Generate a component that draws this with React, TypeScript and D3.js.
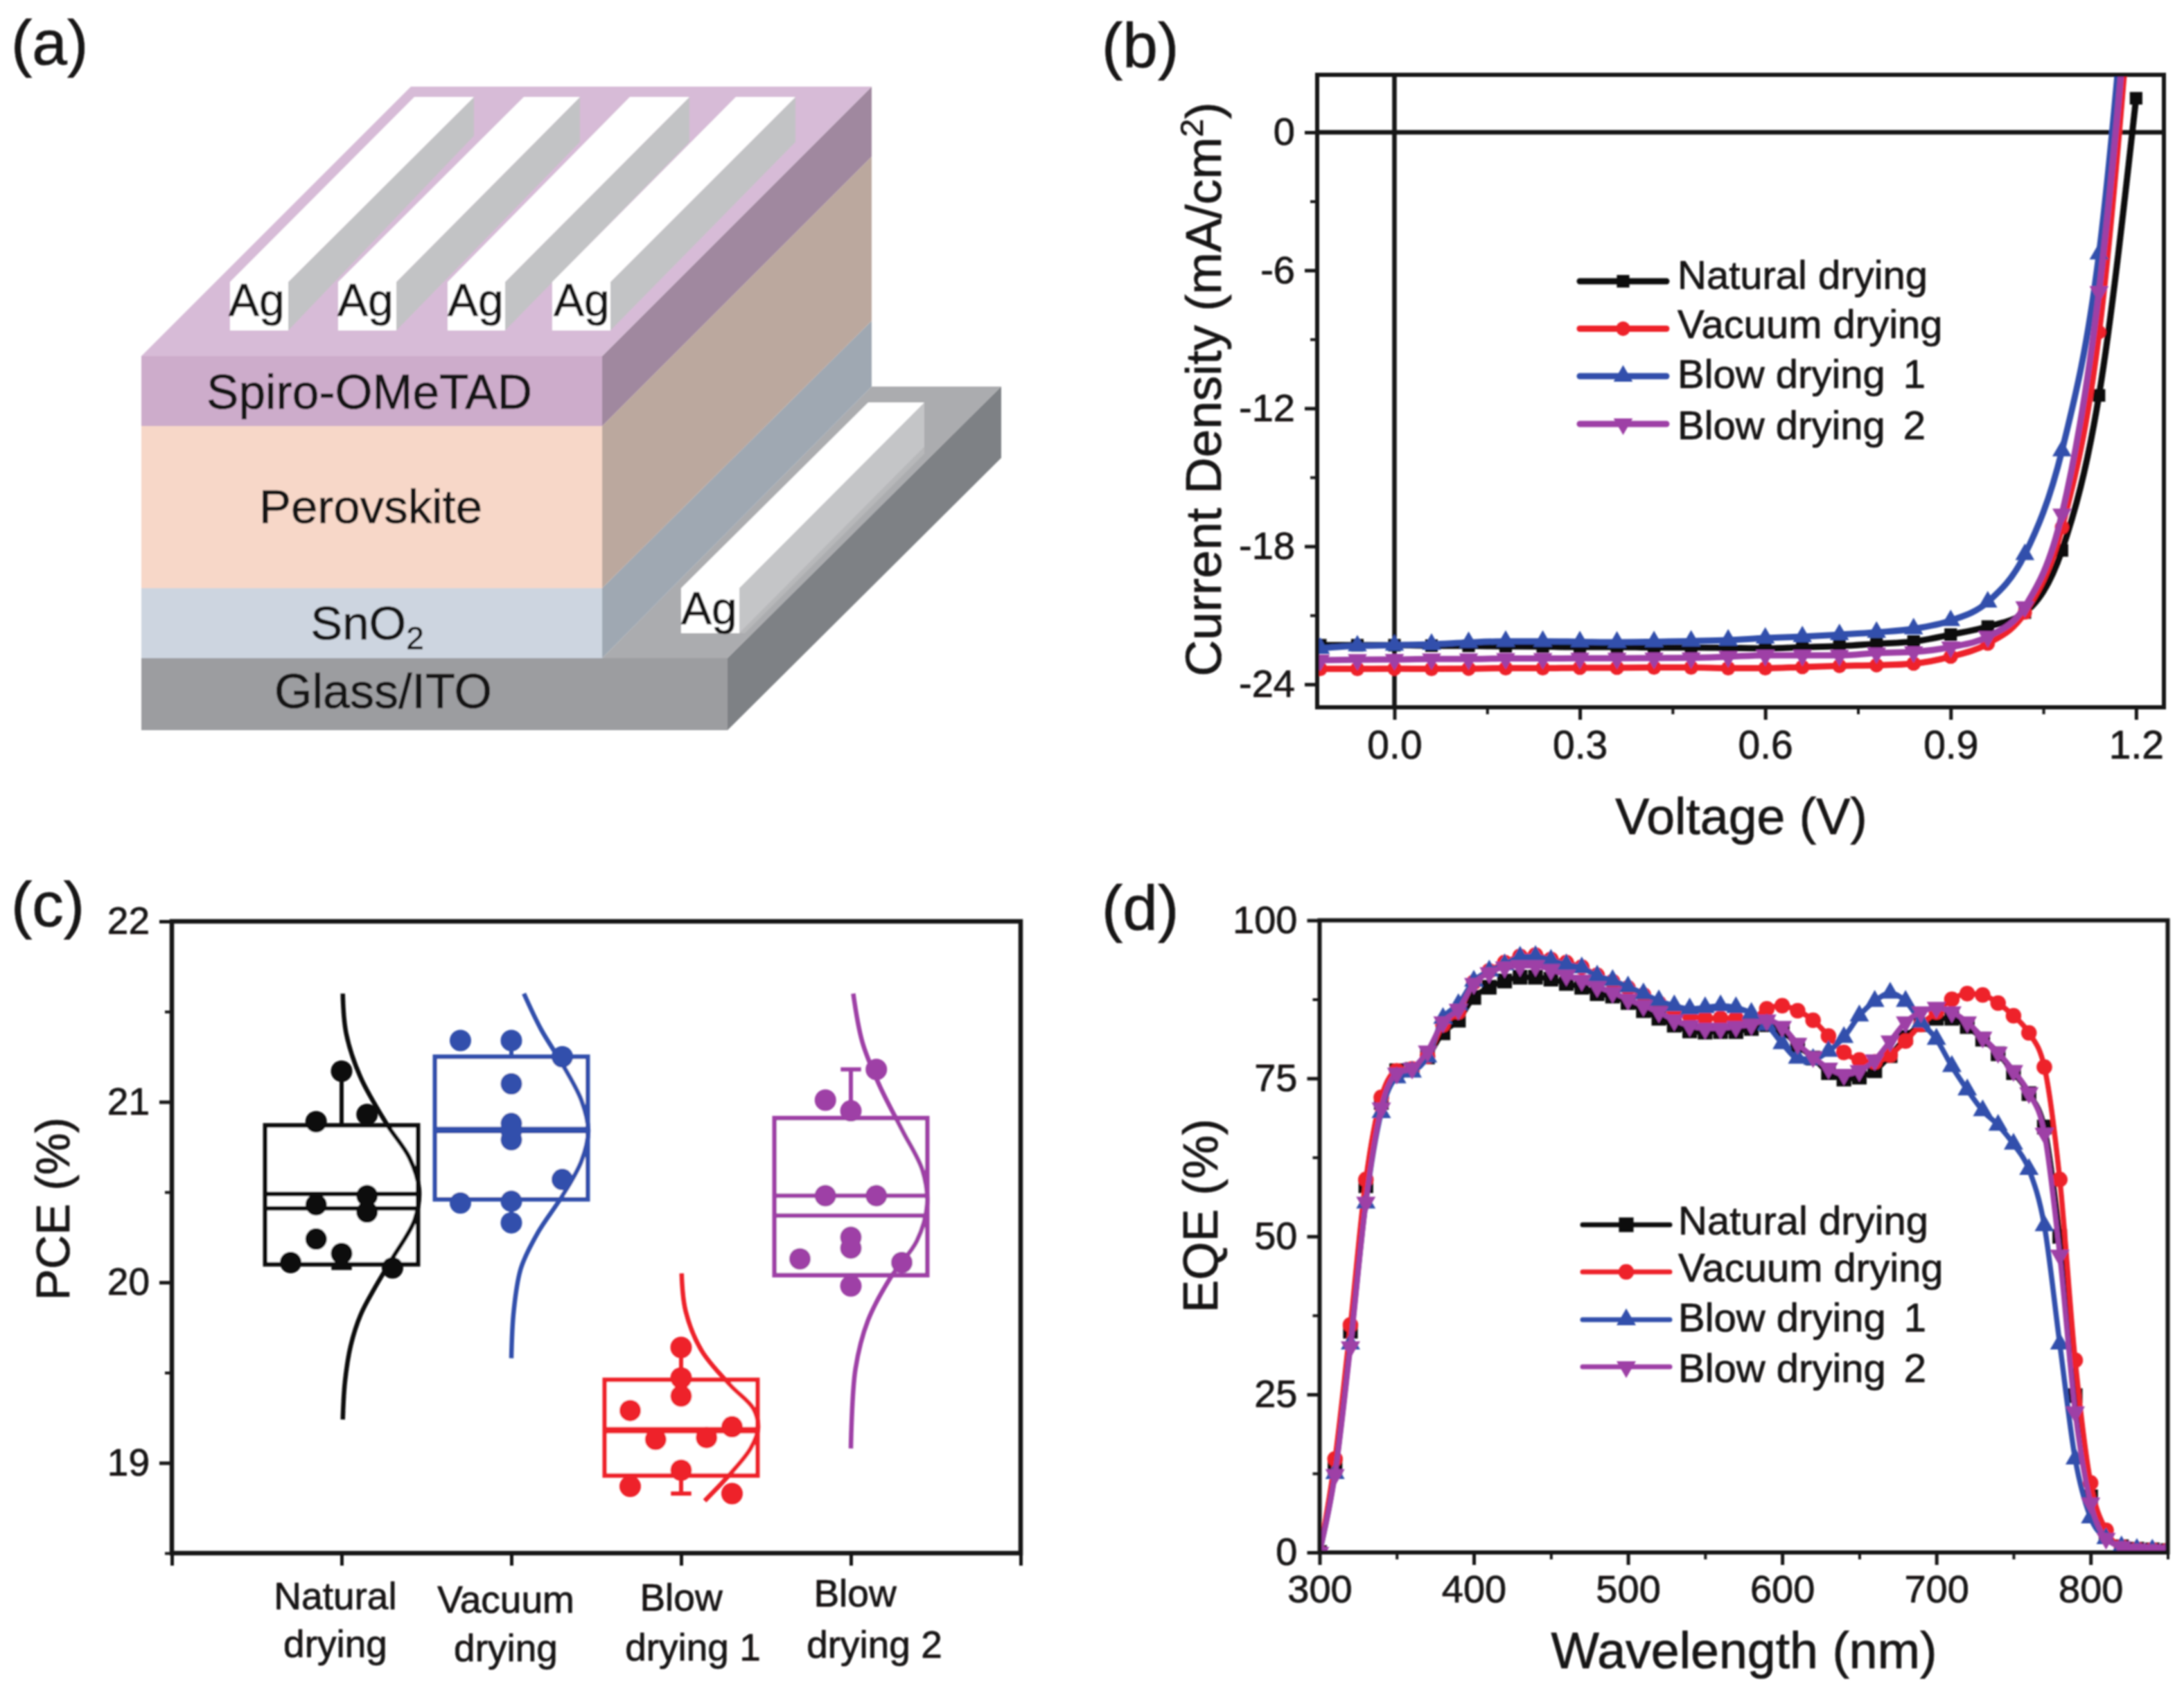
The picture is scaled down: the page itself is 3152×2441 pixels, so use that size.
import { useRef, useEffect } from 'react';
import * as d3 from 'd3';

const FONT = '"Liberation Sans", Arial, sans-serif';
const INK = '#141212';

// ---- panel b data
const voltage = [-0.12, -0.06, 0, 0.06, 0.12, 0.18, 0.24, 0.3, 0.36, 0.42, 0.48, 0.54, 0.6, 0.66, 0.72, 0.78, 0.84, 0.9, 0.96, 1.02, 1.08, 1.14, 1.2];
const jvNatural = [-22.3, -22.3, -22.3, -22.32, -22.33, -22.35, -22.36, -22.38, -22.38, -22.4, -22.4, -22.42, -22.44, -22.39, -22.34, -22.24, -22.14, -21.84, -21.49, -20.88, -18.18, -11.44, 1.48];
const jvVacuum = [-23.33, -23.33, -23.32, -23.33, -23.32, -23.3, -23.3, -23.28, -23.28, -23.27, -23.27, -23.3, -23.3, -23.25, -23.2, -23.17, -23.1, -22.8, -22.23, -20.88, -17.17, -8.69, 9];
const jvBlow1 = [-22.44, -22.33, -22.3, -22.26, -22.18, -22.13, -22.13, -22.15, -22.17, -22.15, -22.12, -22.08, -21.99, -21.93, -21.84, -21.74, -21.59, -21.23, -20.42, -18.36, -13.85, -5.29, 12];
const jvBlow2 = [-22.95, -22.93, -22.92, -22.9, -22.9, -22.88, -22.88, -22.87, -22.87, -22.86, -22.85, -22.8, -22.74, -22.74, -22.74, -22.64, -22.59, -22.38, -21.93, -20.63, -16.6, -6.93, 10];
const legendLabels = ['Natural drying', 'Vacuum drying', 'Blow drying 1', 'Blow drying 2'];

// ---- panel d data
const wavelength = [300, 310, 320, 330, 340, 350, 360, 370, 380, 390, 400, 410, 420, 430, 440, 450, 460, 470, 480, 490, 500, 510, 520, 530, 540, 550, 560, 570, 580, 590, 600, 610, 620, 630, 640, 650, 660, 670, 680, 690, 700, 710, 720, 730, 740, 750, 760, 770, 780, 790, 800, 810, 820, 830, 840, 850];
const eqeNatural = [0, 13.5, 35, 58, 71.2, 76.2, 76.4, 78.4, 82.2, 84.2, 87.8, 89.4, 90.4, 91, 91, 90.7, 90, 89.4, 88.4, 88, 87, 85.7, 84.5, 83.4, 82.5, 82.3, 82.4, 82.4, 82.9, 83.5, 82.5, 80.2, 78.2, 75.9, 74.9, 75.2, 76.2, 78.6, 81.5, 83.5, 84.5, 84.5, 83.2, 81.2, 78.9, 75.9, 72.6, 67.3, 50, 24.8, 8.8, 2.5, 0.9, 0.5, 0.4, 0.3];
const eqeVacuum = [0, 14.8, 36, 59, 72, 76.2, 76.5, 78.5, 83.5, 85.5, 90.2, 92, 93.3, 94.3, 94.5, 93.8, 93.3, 92.6, 91.3, 90.3, 89.3, 88.2, 86.9, 85.5, 84.9, 84.5, 84.5, 84.5, 84.5, 86, 86.5, 85.7, 84.2, 81.7, 79.1, 77.9, 77.6, 78.7, 80.9, 83.5, 85.5, 87.5, 88.4, 88.2, 86.9, 84.9, 82.2, 76.8, 59, 30.4, 11, 3.5, 0.9, 0.5, 0.4, 0.3];
const eqeBlow1 = [0, 12.5, 33, 55.3, 69.6, 75.1, 76, 78.4, 84.5, 86.7, 90.4, 92, 93, 94.2, 94.3, 93.7, 93, 92.5, 91.2, 90.5, 89.5, 88.4, 87.3, 86.5, 86, 86.2, 86.5, 86.2, 85.3, 83.5, 80.5, 78.2, 78, 79.3, 81.5, 84.9, 87.2, 88.5, 87.2, 83.9, 81.2, 76.9, 73.2, 69.9, 67.6, 64.6, 60.6, 51.7, 33, 14.8, 5.5, 2.2, 0.9, 0.5, 0.4, 0.3];
const eqeBlow2 = [0, 12.3, 32.5, 55.4, 70.3, 75.8, 76.6, 79.3, 83.9, 85.9, 90, 91.7, 92.6, 92.8, 92.8, 92.2, 91.3, 90.5, 89.5, 88.6, 87.5, 86.5, 85.5, 84.2, 83.3, 82.9, 82.9, 83.2, 83.5, 84.2, 83.2, 80.5, 78.4, 76.6, 75.6, 76.2, 77.9, 80.9, 83.9, 85.5, 86.2, 85.5, 83.9, 81.5, 79.1, 76.2, 72.7, 66.3, 47, 22.2, 7.8, 2.2, 0.9, 0.5, 0.4, 0.3];

// ---- panel c data
const boxNames = [['Natural', 'drying'], ['Vacuum', 'drying'], ['Blow', 'drying 1'], ['Blow', 'drying 2']];
const boxQ1 = [20.1, 20.46, 18.93, 20.04];
const boxQ3 = [20.87, 21.25, 19.46, 20.91];
const boxMedian = [20.41, 20.838, 19.175, 20.37];
const boxMean = [20.49, 20.85, 19.187, 20.48];
const whiskerLow = [20.08, 20.33, 18.83, 19.98];
const whiskerHigh = [21.17, 21.33, 19.64, 21.18];

// [x offset in category units, PCE]
const dotsNatural = [[0, 21.17], [0.15, 20.93], [-0.15, 20.89], [0.15, 20.48], [-0.15, 20.43], [0.15, 20.39], [-0.15, 20.24], [0, 20.16], [-0.3, 20.11], [0.3, 20.08]];
const dotsVacuum = [[-0.3, 21.34], [0, 21.34], [0.3, 21.25], [0, 21.1], [0, 20.88], [0, 20.84], [0, 20.79], [0.3, 20.57], [-0.3, 20.44], [0, 20.45], [0, 20.33]];
const dotsBlow1 = [[0, 19.64], [0, 19.47], [0, 19.37], [-0.3, 19.29], [0.3, 19.2], [-0.15, 19.13], [0.15, 19.14], [0, 18.96], [-0.3, 18.87], [0.3, 18.83]];
const dotsBlow2 = [[0.15, 21.18], [-0.15, 21.01], [0, 20.95], [-0.15, 20.48], [0.15, 20.48], [0, 20.25], [0, 20.19], [-0.3, 20.13], [0.3, 20.11], [0, 19.98]];

const curveNatural = [[0.007, 21.6], [0.027, 21.38], [0.11, 21.14], [0.264, 20.88], [0.4, 20.69], [0.456, 20.52], [0.432, 20.35], [0.297, 20.13], [0.196, 19.97], [0.112, 19.82], [0.054, 19.65], [0.02, 19.45], [0.007, 19.24]];
const curveVacuum = [[0.074, 21.6], [0.176, 21.4], [0.3, 21.21], [0.412, 21.01], [0.453, 20.84], [0.412, 20.67], [0.294, 20.47], [0.159, 20.28], [0.057, 20.08], [0.014, 19.84], [0, 19.58]];
const curveBlow1 = [[0.003, 20.05], [0.027, 19.84], [0.122, 19.62], [0.29, 19.43], [0.426, 19.3], [0.453, 19.19], [0.409, 19.08], [0.29, 18.94], [0.139, 18.79]];
const curveBlow2 = [[0.014, 21.6], [0.068, 21.33], [0.169, 21.09], [0.304, 20.84], [0.422, 20.62], [0.449, 20.43], [0.389, 20.23], [0.236, 20.03], [0.101, 19.79], [0.027, 19.52], [0, 19.08]];

// colours: black, red, blue, purple
const cBlack = '#111111';
const cRed = '#ee2129';
const cBlue = '#3350ac';
const cPurple = '#9e3fa6';

// the device schematic of panel (a), drawn as flat faces
const faces: [string, string][] = [
  ['#abacaf', '869,950 1258,558 1445,558 1050,950'],
  ['#7e8185', '1050,950 1445,558 1445,661 1050,1054'],
  ['#9c9da0', '204,950 1050,950 1050,1054 204,1054'],
  ['#cdd5e0', '204,849 869,849 869,950 204,950'],
  ['#9fa8b2', '869,849 1258,463 1258,558 869,950'],
  ['#f7d7c8', '204,615 869,615 869,849 204,849'],
  ['#bba89e', '869,615 1258,226 1258,463 869,849'],
  ['#cdaccb', '204,514 869,514 869,615 204,615'],
  ['#a0889f', '869,514 1258,125 1258,226 869,615'],
  ['#d7bbd7', '204,514 593,125 1258,125 869,514'],
  // top electrodes
  ['#c2c3c5', '416,407 684,140 684,196 416,477'],
  ['#ffffff', '332,407 598,140 684,140 416,407'],
  ['#ffffff', '332,407 416,407 416,477 332,477'],
  ['#c2c3c5', '572,407 837,140 837,205 572,477'],
  ['#ffffff', '488,407 756,140 837,140 572,407'],
  ['#ffffff', '488,407 572,407 572,477 488,477'],
  ['#c2c3c5', '729,407 995,140 995,205 729,477'],
  ['#ffffff', '646,407 909,140 995,140 729,407'],
  ['#ffffff', '646,407 729,407 729,477 646,477'],
  ['#c2c3c5', '881,407 1148,140 1148,205 881,477'],
  ['#ffffff', '797,407 1062,140 1148,140 881,407'],
  ['#ffffff', '797,407 881,407 881,477 797,477'],
  // bottom electrode
  ['#b7b8ba', '1067,914 1334,645 1334,655 1075,914'],
  ['#c4c5c7', '1067,849 1334,581 1334,645 1067,914'],
  ['#ffffff', '983,849 1253,581 1334,581 1067,849'],
  ['#ffffff', '983,849 1067,849 1067,914 983,914'],
];

type Sel = any;

const addText = (g: Sel, s: string, x: number, y: number, size: number, anchor = 'start') =>
  g.append('text').attr('x', x).attr('y', y).attr('font-size', size).attr('font-family', FONT)
    .attr('fill', INK).attr('stroke', INK).attr('stroke-width', 0.7)
    .attr('text-anchor', anchor).text(s);

const styleAxis = (ax: Sel, size: number, width: number) => {
  ax.select('.domain').remove();
  ax.selectAll('line').attr('stroke', INK).attr('stroke-width', width);
  ax.selectAll('text').attr('font-family', FONT).attr('font-size', size).attr('fill', INK)
    .attr('stroke', INK).attr('stroke-width', 0.7);
};

const symbols = [d3.symbolSquare, d3.symbolCircle, d3.symbolTriangle, d3.symbolTriangle];
const jvSizes = [330, 340, 330, 330];
const eqeSizes = [450, 400, 340, 340];
const symbolFlip = ['', '', '', 'rotate(180)'];
const seriesColors = [cBlack, cRed, cBlue, cPurple];

const drawMarker = (g: Sel, i: number, x: number, y: number, sizes: number[]) =>
  g.append('path').attr('d', d3.symbol(symbols[i], sizes[i])())
    .attr('fill', seriesColors[i])
    .attr('transform', `translate(${x},${y}) ${symbolFlip[i]}`);

const drawLegend = (g: Sel, x0: number, x1: number, textX: number, lineY: number[], textY: number[], width: number, sizes: number[]) => {
  legendLabels.forEach((label, i) => {
    g.append('line').attr('x1', x0).attr('x2', x1).attr('y1', lineY[i]).attr('y2', lineY[i])
      .attr('stroke', seriesColors[i]).attr('stroke-width', width).attr('stroke-linecap', 'round');
    drawMarker(g, i, (x0 + x1) / 2, lineY[i], sizes);
    // the original sets the final digit apart
    const words = label.split(' ');
    const t = addText(g, '', textX, textY[i], 58);
    const last = words[words.length - 1];
    if (last.length === 1) {
      t.append('tspan').text(words.slice(0, -1).join(' '));
      t.append('tspan').attr('dx', 26).text(last);
    } else {
      t.text(label);
    }
  });
};

const App = () => {
  const ref = useRef<SVGSVGElement>(null);

  useEffect(() => {
    const root = d3.select(ref.current);
    root.selectAll('*').remove();

    // the figure is a soft scan, a light blur keeps edges the same
    root.append('filter').attr('id', 'soft').attr('filterUnits', 'userSpaceOnUse')
      .attr('x', 0).attr('y', 0).attr('width', 3152).attr('height', 2441)
      .append('feGaussianBlur').attr('stdDeviation', 1);
    const svg = root.append('g').attr('filter', 'url(#soft)');

    // panel letters
    addText(svg, '(a)', 16, 93, 91);
    addText(svg, '(b)', 1590, 97, 91);
    addText(svg, '(c)', 16, 1337, 91);
    addText(svg, '(d)', 1590, 1342, 91);

    // ---- (a)
    const ga = svg.append('g');
    faces.forEach(([fill, pts]) => ga.append('polygon').attr('points', pts).attr('fill', fill));
    [330, 487, 646, 799].forEach((x) => addText(ga, 'Ag', x, 456, 66));
    addText(ga, 'Ag', 983, 901, 66);
    addText(ga, 'Spiro-OMeTAD', 533, 590, 69.5, 'middle');
    addText(ga, 'Perovskite', 535, 755, 69, 'middle');
    const sn = addText(ga, 'SnO', 530, 923, 69, 'middle');
    sn.append('tspan').attr('dy', 14).attr('font-size', 46).text('2');
    addText(ga, 'Glass/ITO', 553, 1022, 70, 'middle');

    // ---- (b)
    const bx = d3.scaleLinear().domain([-0.125, 1.245]).range([1901, 3123]);
    const by = d3.scaleLinear().domain([-25, 2.5]).range([1021, 108]);
    const gb = svg.append('g');
    root.append('clipPath').attr('id', 'clip-b').append('rect')
      .attr('x', 1901).attr('y', 108).attr('width', 1222).attr('height', 913);

    const bxMinor = gb.append('g').attr('transform', 'translate(0,1021)')
      .call(d3.axisBottom(bx).tickValues([0.15, 0.45, 0.75, 1.05]).tickSize(10).tickFormat(() => ''));
    styleAxis(bxMinor, 10, 4);
    const bxAxis = gb.append('g').attr('transform', 'translate(0,1021)')
      .call(d3.axisBottom(bx).tickValues([0, 0.3, 0.6, 0.9, 1.2]).tickSize(18).tickPadding(16).tickFormat(d3.format('.1f')));
    styleAxis(bxAxis, 57, 5);
    const byMinor = gb.append('g').attr('transform', 'translate(1901,0)')
      .call(d3.axisLeft(by).tickValues([-3, -9, -15, -21]).tickSize(10).tickFormat(() => ''));
    styleAxis(byMinor, 10, 4);
    const byAxis = gb.append('g').attr('transform', 'translate(1901,0)')
      .call(d3.axisLeft(by).tickValues([0, -6, -12, -18, -24]).tickSize(18).tickPadding(14).tickFormat((d: any) => String(d)));
    styleAxis(byAxis, 56, 5);

    gb.append('line').attr('x1', bx(0)).attr('x2', bx(0)).attr('y1', 108).attr('y2', 1021).attr('stroke', INK).attr('stroke-width', 6.5);
    gb.append('line').attr('x1', 1901).attr('x2', 3123).attr('y1', by(0)).attr('y2', by(0)).attr('stroke', INK).attr('stroke-width', 6.5);

    const jvSeries = [jvNatural, jvVacuum, jvBlow1, jvBlow2];
    const jvPlot = gb.append('g').attr('clip-path', 'url(#clip-b)');
    const jvLine = d3.line<number>().x((_, i) => bx(voltage[i])).y((d) => by(d)).curve(d3.curveMonotoneX);
    jvSeries.forEach((vals, s) => {
      jvPlot.append('path').attr('d', jvLine(vals)).attr('fill', 'none').attr('stroke', seriesColors[s]).attr('stroke-width', 9);
      vals.forEach((v, i) => drawMarker(jvPlot, s, bx(voltage[i]), by(v), jvSizes));
    });
    gb.append('rect').attr('x', 1901).attr('y', 108).attr('width', 1222).attr('height', 913)
      .attr('fill', 'none').attr('stroke', INK).attr('stroke-width', 6);

    drawLegend(gb, 2280, 2405, 2421, [406, 474.5, 543, 612], [417, 488, 560, 634], 9, jvSizes);
    const jLabel = addText(gb, 'Current Density (mA/cm', 0, 0, 73, 'middle')
      .attr('transform', 'translate(1762,562) rotate(-90)');
    jLabel.append('tspan').attr('dy', -26).attr('font-size', 47).text('2');
    jLabel.append('tspan').attr('dy', 26).text(')');
    addText(gb, 'Voltage (V)', 2513, 1204, 73.5, 'middle');

    // ---- (c)
    const cx = d3.scaleLinear().domain([0, 5]).range([248, 1473]);
    const cy = d3.scaleLinear().domain([18.5, 22]).range([2242, 1330]);
    const gc = svg.append('g');
    const cyMinor = gc.append('g').attr('transform', 'translate(248,0)')
      .call(d3.axisLeft(cy).tickValues([18.5, 19.5, 20.5, 21.5]).tickSize(10).tickFormat(() => ''));
    styleAxis(cyMinor, 10, 4);
    const cyAxis = gc.append('g').attr('transform', 'translate(248,0)')
      .call(d3.axisLeft(cy).tickValues([19, 20, 21, 22]).tickSize(18).tickPadding(14).tickFormat(d3.format('d')));
    styleAxis(cyAxis, 55, 5);
    const cxAxis = gc.append('g').attr('transform', 'translate(0,2242)')
      .call(d3.axisBottom(cx).tickValues([0, 1, 2, 3, 4, 5]).tickSize(18).tickFormat(() => ''));
    styleAxis(cxAxis, 10, 5);
    gc.append('rect').attr('x', 248).attr('y', 1330).attr('width', 1225).attr('height', 912)
      .attr('fill', 'none').attr('stroke', INK).attr('stroke-width', 6.5);

    const boxColors = [cBlack, cBlue, cRed, cPurple];
    const boxDots = [dotsNatural, dotsVacuum, dotsBlow1, dotsBlow2];
    const boxCurves = [curveNatural, curveVacuum, curveBlow1, curveBlow2];
    const hw = 0.45;
    boxNames.forEach((_, i) => {
      const c = i + 1;
      const col = boxColors[i];
      const g = gc.append('g');
      const hline = (v: number, sw: number, half = hw) =>
        g.append('line').attr('x1', cx(c - half)).attr('x2', cx(c + half)).attr('y1', cy(v)).attr('y2', cy(v)).attr('stroke', col).attr('stroke-width', sw);
      g.append('line').attr('x1', cx(c)).attr('x2', cx(c)).attr('y1', cy(whiskerHigh[i])).attr('y2', cy(whiskerLow[i])).attr('stroke', col).attr('stroke-width', 6);
      hline(whiskerHigh[i], 6, 0.06);
      hline(whiskerLow[i], 6, 0.06);
      g.append('rect').attr('x', cx(c - hw)).attr('y', cy(boxQ3[i])).attr('width', cx(c + hw) - cx(c - hw))
        .attr('height', cy(boxQ1[i]) - cy(boxQ3[i])).attr('fill', '#fff').attr('stroke', col).attr('stroke-width', 6.5);
      hline(boxMedian[i], 6.5);
      hline(boxMean[i], 6.5);
      const dens = d3.line<number[]>().x((d) => cx(c + d[0])).y((d) => cy(d[1])).curve(d3.curveCatmullRom);
      g.append('path').attr('d', dens(boxCurves[i])).attr('fill', 'none').attr('stroke', col).attr('stroke-width', 6.5);
      boxDots[i].forEach((d) => {
        g.append('circle').attr('cx', cx(c + d[0])).attr('cy', cy(d[1])).attr('r', 15.5).attr('fill', col);
      });
    });
    // category labels sit a little unevenly in the original
    const labelCx = [[484, 484], [730, 730], [983, 1000], [1234, 1262]];
    const labelY = [[2323, 2392], [2328, 2398], [2325, 2397], [2319, 2393]];
    boxNames.forEach((lines, i) => {
      lines.forEach((t, k) => addText(gc, t, labelCx[i][k], labelY[i][k], 55, 'middle'));
    });
    addText(gc, 'PCE (%)', 0, 0, 68, 'middle').attr('transform', 'translate(100,1745) rotate(-90)');

    // ---- (d)
    const dx = d3.scaleLinear().domain([300, 850]).range([1904.5, 3128.5]);
    const dy = d3.scaleLinear().domain([0, 100]).range([2241, 1328.5]);
    const gd = svg.append('g');
    root.append('clipPath').attr('id', 'clip-d').append('rect')
      .attr('x', 1904.5).attr('y', 1328.5).attr('width', 1224).attr('height', 912.5);
    const dxMinor = gd.append('g').attr('transform', 'translate(0,2241)')
      .call(d3.axisBottom(dx).tickValues([350, 450, 550, 650, 750, 850]).tickSize(10).tickFormat(() => ''));
    styleAxis(dxMinor, 10, 4);
    const dxAxis = gd.append('g').attr('transform', 'translate(0,2241)')
      .call(d3.axisBottom(dx).tickValues([300, 400, 500, 600, 700, 800]).tickSize(18).tickPadding(14).tickFormat(d3.format('d')));
    styleAxis(dxAxis, 56, 5);
    const dyMinor = gd.append('g').attr('transform', 'translate(1904.5,0)')
      .call(d3.axisLeft(dy).tickValues([12.5, 37.5, 62.5, 87.5]).tickSize(10).tickFormat(() => ''));
    styleAxis(dyMinor, 10, 4);
    const dyAxis = gd.append('g').attr('transform', 'translate(1904.5,0)')
      .call(d3.axisLeft(dy).tickValues([0, 25, 50, 75, 100]).tickSize(18).tickPadding(14).tickFormat(d3.format('d')));
    styleAxis(dyAxis, 56, 5);

    const eqeSeries = [eqeNatural, eqeVacuum, eqeBlow1, eqeBlow2];
    const eqePlot = gd.append('g').attr('clip-path', 'url(#clip-d)');
    const eqeLine = d3.line<number>().x((_, i) => dx(wavelength[i])).y((d) => dy(d)).curve(d3.curveMonotoneX);
    eqeSeries.forEach((vals, s) => {
      eqePlot.append('path').attr('d', eqeLine(vals)).attr('fill', 'none').attr('stroke', seriesColors[s]).attr('stroke-width', 7.5);
      vals.forEach((v, i) => drawMarker(eqePlot, s, dx(wavelength[i]), dy(v), eqeSizes));
    });
    gd.append('rect').attr('x', 1904.5).attr('y', 1328.5).attr('width', 1224).attr('height', 912.5)
      .attr('fill', 'none').attr('stroke', INK).attr('stroke-width', 6);
    drawLegend(gd, 2284, 2410, 2422, [1768, 1836, 1905, 1973], [1782, 1850, 1922, 1995], 7, eqeSizes);
    addText(gd, 'Wavelength (nm)', 2517, 2408, 73.5, 'middle');
    addText(gd, 'EQE (%)', 0, 0, 71, 'middle').attr('transform', 'translate(1757,1755) rotate(-90)');
  }, []);

  return (
    <svg ref={ref} width={3152} height={2441} style={{ position: 'absolute', left: 0, top: 0, background: '#fff' }} />
  );
};

export default App;
